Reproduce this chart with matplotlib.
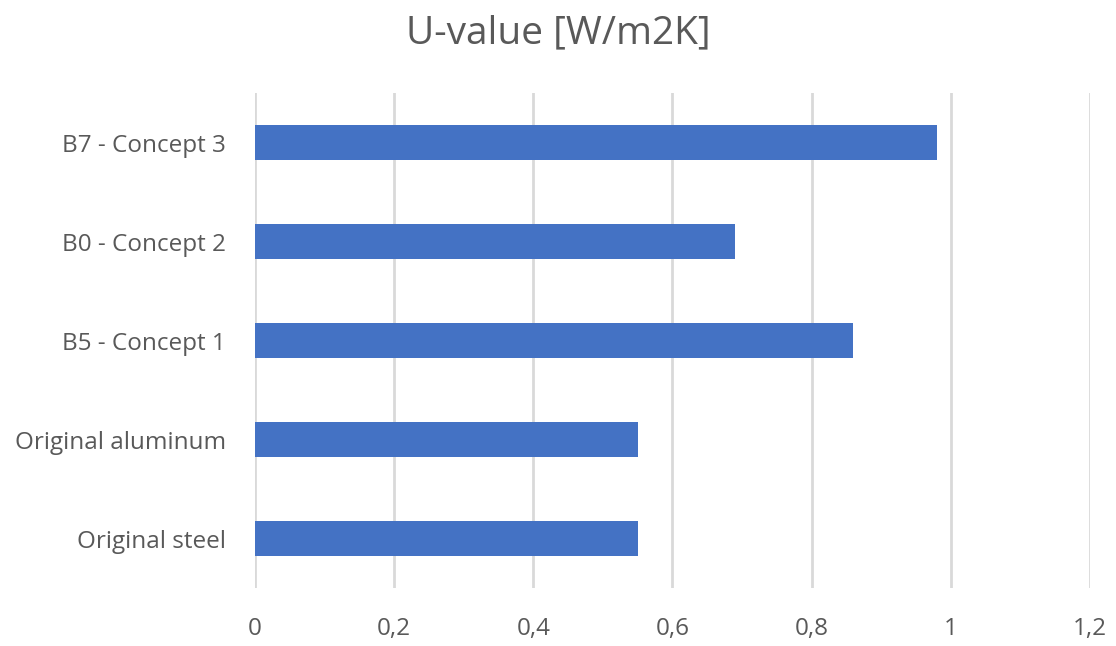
import matplotlib.pyplot as plt

categories = ["Original steel", "Original aluminum", "B5 - Concept 1", "B0 - Concept 2", "B7 - Concept 3"]
u_values = [0.55, 0.55, 0.86, 0.69, 0.98]
xticks = [0, 0.2, 0.4, 0.6, 0.8, 1.0, 1.2]
xtick_labels = ["0", "0,2", "0,4", "0,6", "0,8", "1", "1,2"]

plt.rcParams["font.family"] = ["Open Sans", "DejaVu Sans"]
text_color = "#595959"

fig = plt.figure(figsize=(11.16, 6.46), dpi=100)
ax = fig.add_axes([0.2285, 0.0898, 0.748, 0.766])

ax.barh(range(len(categories)), u_values, height=0.355, color="#4472C4", zorder=3)

ax.set_xlim(0, 1.2)
ax.set_ylim(-0.5, len(categories) - 0.5)
ax.set_xticks(xticks, labels=xtick_labels)
ax.set_yticks(range(len(categories)), labels=categories)

ax.grid(axis="x", color="#d9d9d9", linewidth=2, zorder=0)
for s in ax.spines.values():
    s.set_visible(False)
ax.tick_params(axis="both", length=0, colors=text_color, labelsize=17.5)
ax.tick_params(axis="x", pad=21)
ax.tick_params(axis="y", pad=21)

fig.text(0.5, 0.948, "U-value [W/m2K]", ha="center", va="center",
         fontsize=28, color=text_color)

fig.savefig("out.png", dpi=100)
